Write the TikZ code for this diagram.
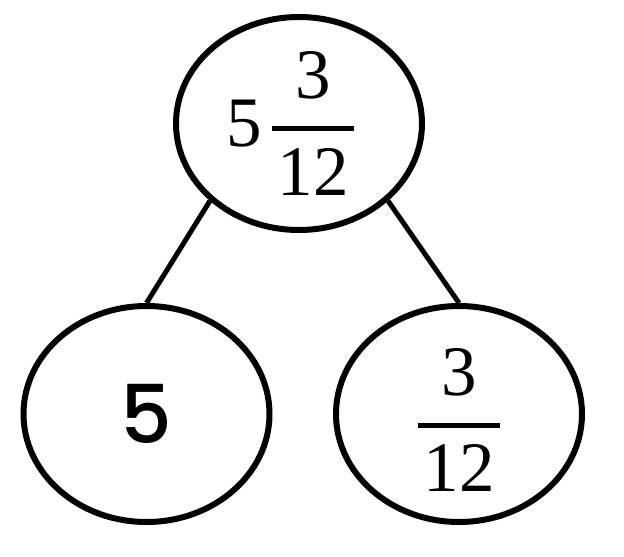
\RequirePackage{fix-cm}
\documentclass[tikz,border=0pt]{standalone}
\usepackage{amsmath}
\usepackage{fontspec}
\setmainfont{Liberation Serif}
\newfontfamily\digitfont{Poppins Medium}
\usepackage{tikz}
\usetikzlibrary{shapes.geometric}

% three twelfths, bar a little wider than the digits
\newcommand{\twelfths}{\genfrac{}{}{5pt}{0}{\text{3}}{\text{\kern5.5pt 12\kern5.5pt}}}

\begin{document}
\begin{tikzpicture}[x=1pt, y=-1pt,
  part/.style={ellipse, draw, line width=6pt, inner sep=0pt, minimum width=246pt, minimum height=216pt},
  joint/.style={line width=5pt},
  serif/.style={font=\fontsize{71}{80}\selectfont},
]
  \useasboundingbox (0,0) rectangle (624,557);
  \node[part, serif, minimum height=213pt] (whole) at (299,123.5) {$\text{5}\kern9pt\twelfths\kern16pt$};
  \node[part, font=\digitfont\fontsize{81}{90}\selectfont] (ones) at (146.5,414) {5};
  \node[part, serif] (frac) at (459,414) {\raisebox{-6pt}[\height][\depth]{$\twelfths$}};

  \draw[joint] (whole.south west) -- (ones.north);
  \draw[joint] (whole.south east) -- (frac.north);
\end{tikzpicture}
\end{document}
